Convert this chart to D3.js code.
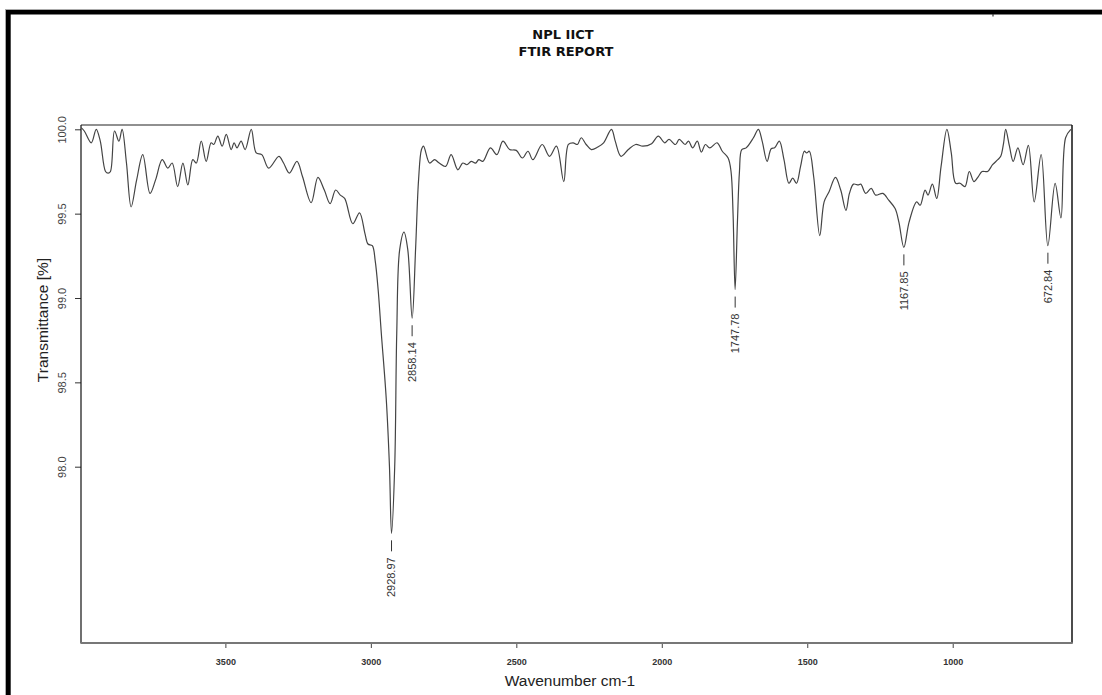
<!DOCTYPE html>
<html>
<head>
<meta charset="utf-8">
<script src="https://cdn.jsdelivr.net/npm/d3@7"></script>
<style>
  html, body { margin: 0; padding: 0; background: #fff; }
  svg { display: block; }
</style>
</head>
<body>
<div id="chart-area"></div>
<script>
const svgWidth = 1102;
const svgHeight = 695;

// spectrum (wavenumber cm-1, transmittance %)
const wavenumbers = [
  3996, 3985, 3961, 3944, 3930, 3912, 3903, 3895, 3881, 3866, 3855, 3840, 3824, 3805, 3784,
  3759, 3740, 3717, 3698, 3683, 3664, 3646, 3629, 3612, 3600, 3583, 3566, 3549, 3540, 3526,
  3511, 3497, 3480, 3470, 3460, 3446, 3432, 3411, 3394, 3375, 3351, 3316, 3300, 3280, 3254,
  3235, 3205, 3182, 3160, 3140, 3121, 3105, 3090, 3062, 3039, 3020, 3010, 2995, 2985, 2975,
  2964, 2947, 2936, 2929, 2918, 2911, 2901, 2886, 2873, 2858, 2846, 2836, 2826, 2819, 2798,
  2781, 2765, 2743, 2724, 2701, 2684, 2670, 2655, 2640, 2629, 2615, 2589, 2567, 2546, 2523,
  2500, 2479, 2460, 2443, 2411, 2386, 2362, 2337, 2321, 2305, 2290, 2277, 2260, 2242, 2220,
  2200, 2173, 2160, 2140, 2115, 2090, 2065, 2035, 2012, 1990, 1975, 1953, 1940, 1920, 1908,
  1894, 1878, 1864, 1850, 1835, 1810, 1792, 1772, 1762, 1755, 1748, 1740, 1733, 1725, 1710,
  1685, 1668, 1655, 1638, 1624, 1612, 1596, 1580, 1563, 1550, 1537, 1523, 1510, 1502, 1493,
  1478, 1457, 1442, 1425, 1403, 1385, 1367, 1355, 1341, 1325, 1316, 1299, 1280, 1265, 1240,
  1220, 1198, 1185, 1168, 1150, 1124, 1112, 1095, 1085, 1070, 1055, 1040, 1020, 1005, 990,
  975, 958, 943, 927, 912, 899, 880, 863, 845, 835, 825, 818, 805, 792, 776,
  758, 740, 720, 696, 673, 648, 628, 612, 594
];
const transmittance = [
  100.01, 99.99, 99.92, 100.0, 99.93, 99.75, 99.74, 99.75, 99.99, 99.93, 100.0, 99.8, 99.54, 99.7, 99.85,
  99.62, 99.7, 99.82, 99.77, 99.8, 99.66, 99.8, 99.67, 99.82, 99.8, 99.93, 99.81, 99.92, 99.91, 99.96,
  99.9, 99.97, 99.88, 99.92, 99.89, 99.93, 99.88, 100.0, 99.86, 99.85, 99.77, 99.84, 99.8, 99.74, 99.81,
  99.72, 99.565, 99.715, 99.64, 99.56, 99.64, 99.61, 99.59, 99.44, 99.505, 99.38, 99.32, 99.31, 99.22, 99.05,
  98.79, 98.4, 98.0, 97.605, 98.0, 98.79, 99.285, 99.39, 99.285, 98.88, 99.3, 99.7, 99.88, 99.9, 99.8,
  99.82, 99.8, 99.78, 99.85, 99.76, 99.8, 99.79, 99.81, 99.8, 99.82, 99.81, 99.89, 99.85, 99.93, 99.88,
  99.875, 99.83, 99.87, 99.82, 99.91, 99.84, 99.9, 99.69, 99.91, 99.92, 99.91, 99.95, 99.91, 99.88, 99.895,
  99.92, 100.0, 99.93, 99.84, 99.88, 99.91, 99.9, 99.915, 99.96, 99.92, 99.94, 99.91, 99.94, 99.91, 99.93,
  99.89, 99.93, 99.865, 99.91, 99.89, 99.92, 99.87, 99.83, 99.75, 99.5, 99.05, 99.45, 99.75, 99.88, 99.89,
  99.95, 100.0, 99.93, 99.81, 99.885, 99.89, 99.93, 99.82, 99.68, 99.71, 99.68, 99.78, 99.87, 99.86, 99.87,
  99.72, 99.37, 99.57, 99.63, 99.715, 99.64, 99.52, 99.62, 99.675, 99.67, 99.675, 99.62, 99.65, 99.61, 99.62,
  99.58, 99.53, 99.45, 99.3, 99.45, 99.57, 99.55, 99.64, 99.61, 99.675, 99.59, 99.78, 100.0, 99.86, 99.68,
  99.68, 99.66, 99.75, 99.69, 99.72, 99.75, 99.75, 99.79, 99.82, 99.84, 99.92, 100.0, 99.9, 99.81, 99.89,
  99.79, 99.905, 99.57, 99.85, 99.31, 99.68, 99.475, 99.95, 100.0
];

const peakLabels = [2928.97, 2858.14, 1747.78, 1167.85, 672.84];
const xTicks = [3500, 3000, 2500, 2000, 1500, 1000];
const yTicks = [100.0, 99.5, 99.0, 98.5, 98.0];

const box = { left: 81, right: 1072, top: 125, bottom: 643 };

const svg = d3.select("#chart-area")
  .append("svg")
    .attr("width", svgWidth)
    .attr("height", svgHeight);

svg.append("rect")
  .attr("width", svgWidth)
  .attr("height", svgHeight)
  .attr("fill", "#fff");

// screenshot frame
svg.append("line")
  .attr("x1", 5).attr("x2", svgWidth).attr("y1", 9.5).attr("y2", 9.5)
  .attr("stroke", "#aaa").attr("stroke-width", 1);
svg.append("line")
  .attr("x1", 5.5).attr("x2", 5.5).attr("y1", 9).attr("y2", svgHeight)
  .attr("stroke", "#aaa").attr("stroke-width", 1);
svg.append("rect")
  .attr("x", 6).attr("y", 10)
  .attr("width", svgWidth - 6).attr("height", 4.5)
  .attr("fill", "#000");
svg.append("rect")
  .attr("x", 6).attr("y", 10)
  .attr("width", 4.7).attr("height", svgHeight - 10)
  .attr("fill", "#000");
svg.append("line")
  .attr("x1", 993).attr("x2", 993).attr("y1", 14).attr("y2", 16.5)
  .attr("stroke", "#333").attr("stroke-width", 1.2);

const x = d3.scaleLinear()
  .domain([3998, 590])
  .range([80.5, 1072]);

const y = d3.scaleLinear()
  .domain([100, 98])
  .range([129.3, 466.7]);

// titles
const title = svg.append("text")
  .attr("text-anchor", "middle")
  .attr("font-family", "DejaVu Sans")
  .attr("font-weight", "bold")
  .attr("font-size", 13)
  .attr("fill", "#111");
title.append("tspan").attr("x", 563).attr("y", 39).text("NPL IICT");
title.append("tspan").attr("x", 566).attr("y", 56).text("FTIR REPORT");

// y axis
const yAxis = svg.append("g")
  .attr("transform", `translate(${box.left},0)`)
  .call(d3.axisLeft(y).tickValues(yTicks).tickSize(6).tickFormat(d3.format(".1f")));
yAxis.select(".domain").remove();
yAxis.selectAll(".tick line").attr("stroke", "#333");
yAxis.selectAll(".tick text")
  .attr("transform", "rotate(-90)")
  .attr("x", 0)
  .attr("y", -19.3)
  .attr("dy", "0.35em")
  .attr("text-anchor", "middle")
  .attr("font-family", "Liberation Sans, Arial, sans-serif")
  .attr("font-size", 11)
  .attr("fill", "#444");

// x axis
const xAxis = svg.append("g")
  .attr("transform", `translate(0,${box.bottom})`)
  .call(d3.axisBottom(x).tickValues(xTicks).tickSize(5).tickFormat(d3.format("d")));
xAxis.select(".domain").remove();
xAxis.selectAll(".tick line").attr("stroke", "#444");
xAxis.selectAll(".tick text")
  .attr("y", 15.5)
  .attr("dy", "0.71em")
  .attr("font-family", "Liberation Sans, Arial, sans-serif")
  .attr("font-weight", "bold")
  .attr("font-size", 9)
  .attr("fill", "#333");

svg.append("text")
  .text("Transmittance [%]")
  .attr("transform", "translate(48,320) rotate(-90)")
  .attr("text-anchor", "middle")
  .attr("font-family", "Liberation Sans, Arial, sans-serif")
  .attr("font-size", 15.5)
  .attr("fill", "#222");

svg.append("text")
  .text("Wavenumber cm-1")
  .attr("x", 570)
  .attr("y", 686)
  .attr("text-anchor", "middle")
  .attr("font-family", "Liberation Sans, Arial, sans-serif")
  .attr("font-size", 15.5)
  .attr("fill", "#222");

// plot box
svg.append("line")
  .attr("x1", box.left).attr("x2", box.right).attr("y1", box.top).attr("y2", box.top)
  .attr("stroke", "#222").attr("stroke-width", 1.2);
svg.append("line")
  .attr("x1", box.left).attr("x2", box.left).attr("y1", box.top).attr("y2", box.bottom)
  .attr("stroke", "#111").attr("stroke-width", 1.2);
svg.append("line")
  .attr("x1", box.right).attr("x2", box.right).attr("y1", box.top).attr("y2", box.bottom)
  .attr("stroke", "#111").attr("stroke-width", 1.5);
svg.append("line")
  .attr("x1", box.left - 0.6).attr("x2", box.right + 0.75).attr("y1", box.bottom).attr("y2", box.bottom)
  .attr("stroke", "#777").attr("stroke-width", 2);

svg.append("clipPath").attr("id", "plot-clip")
  .append("rect")
    .attr("x", box.left).attr("y", box.top)
    .attr("width", box.right - box.left).attr("height", box.bottom - box.top);

const spectrum = wavenumbers.map((w, i) => ({ w: w, t: transmittance[i] }));

const line = d3.line()
  .x(d => x(d.w))
  .y(d => y(d.t))
  .curve(d3.curveCatmullRom.alpha(0.5));

svg.append("path")
  .datum(spectrum)
  .attr("clip-path", "url(#plot-clip)")
  .attr("d", line)
  .attr("fill", "none")
  .attr("stroke", "#444")
  .attr("stroke-width", 1.2);

// peak markers
peakLabels.forEach(p => {
  const near = spectrum.filter(d => Math.abs(d.w - p) < 20);
  const tMin = d3.min(near, d => d.t);
  const px = x(p);
  const py = y(tMin);
  svg.append("line")
    .attr("x1", px).attr("x2", px)
    .attr("y1", py + 7).attr("y2", py + 18)
    .attr("stroke", "#333").attr("stroke-width", 1);
  svg.append("text")
    .text(p.toFixed(2))
    .attr("transform", `translate(${px},${py + 24}) rotate(-90)`)
    .attr("dy", "0.35em")
    .attr("text-anchor", "end")
    .attr("font-family", "Liberation Sans, Arial, sans-serif")
    .attr("font-size", 11)
    .attr("fill", "#333");
});
</script>
</body>
</html>
